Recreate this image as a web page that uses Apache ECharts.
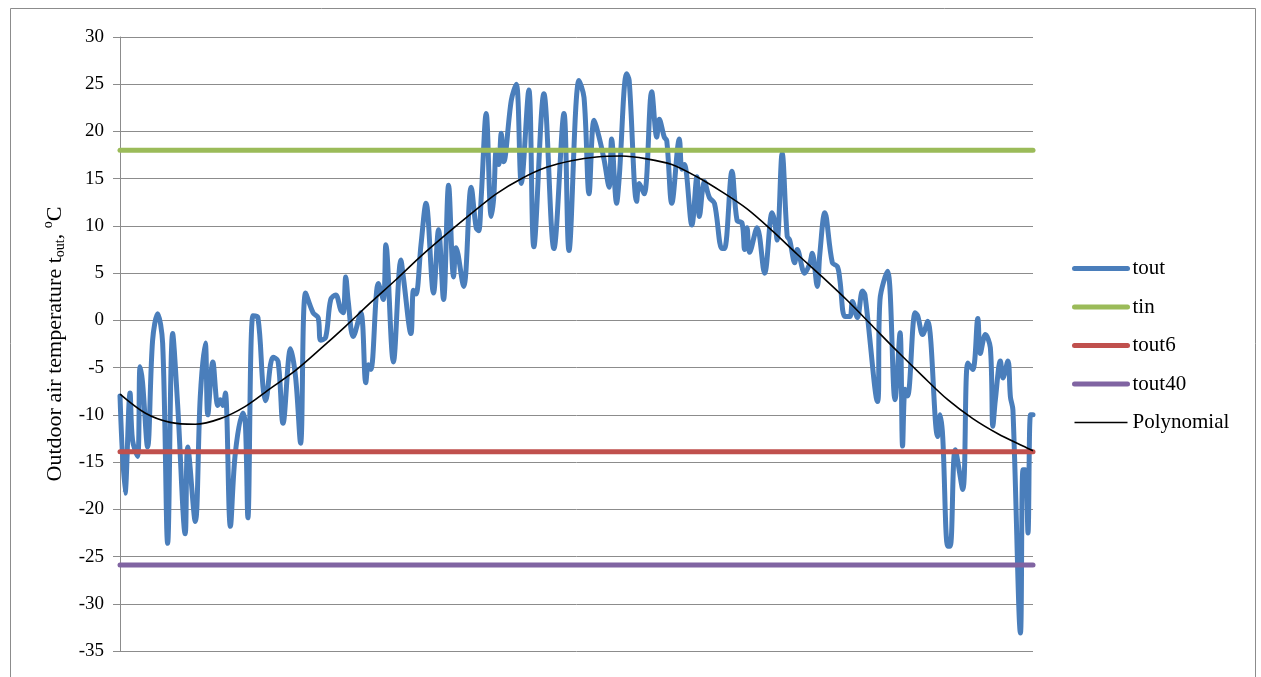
<!DOCTYPE html>
<html>
<head>
<meta charset="utf-8">
<script src="https://cdn.jsdelivr.net/npm/echarts@6/dist/echarts.min.js"></script>
<style>
  html, body { margin: 0; padding: 0; background: #ffffff; }
  #chart { width: 1261px; height: 677px; }
</style>
</head>
<body>
<div id="chart"></div>
<script>
// Day of year for each reading of the outdoor temperature series
const days = [1,3,5,6,8,9,10,12,14,16,18,20,22,24,27,28,31,33,35,36,38,40,41,42,43,45,47,50,51,52,54,56,58,59,62,64,66,69,71,73,75,78,80,81,83,85,87,89,90,91,92,94,97,99,100,101,104,106,107,110,113,114,117,118,119,121,123,126,128,130,132,134,135,138,141,143,144,145,147,149,150,151,152,153,154,157,159,161,164,166,170,174,178,180,184,186,188,190,192,194,196,197,199,200,203,204,207,208,210,213,215,216,218,219,221,224,225,226,229,231,232,234,236,238,241,242,245,247,249,250,251,252,255,258,261,262,263,265,267,268,270,271,274,276,277,279,280,282,285,287,288,290,292,293,295,297,298,303,304,307,310,312,313,314,315,318,319,321,323,327,328,329,331,332,334,337,339,341,343,344,346,348,349,350,352,353,355,356,357,360,361,362,363,364,365];

// Outdoor air temperature, °C
const tout = [-8.0,-18.3,-7.7,-12.7,-14.4,-4.9,-6.6,-13.4,-2.1,0.7,-2.4,-23.6,-1.4,-9,-22.6,-13.4,-21.3,-8.1,-2.4,-10,-4.4,-9,-8.4,-9,-7.7,-21.8,-14,-9.8,-11,-20.9,0.5,0.3,-7,-8.5,-3.9,-4.3,-10.9,-3,-6,-13,2.9,0.8,0.3,-2.1,-1.8,2.2,2.7,1.1,0.8,4.6,2,-1.7,0.8,-6.6,-4.7,-5.2,3.9,2.2,8,-4.4,6.4,4.5,-1.4,3.2,2.8,8,12.4,2.9,9.6,2.2,14.3,4.6,7.7,3.6,14.1,9.8,9.5,13,21.9,11,13,18,16.5,19.8,16.8,23.3,25,14.5,24.4,7.8,24,7.6,21.9,7.4,25.4,23.6,13.4,21.2,19.4,17,14.1,19.2,12.4,15,26.1,25.4,12.6,14.5,13.4,24.2,19.4,21.3,19.4,19,12.4,19.2,16,16.5,10.1,15.2,11,14.7,13,12.4,7.6,7.6,15.8,10.6,10.3,7.5,9.8,7.2,9.8,5,11.4,10.5,8.5,17.7,8.9,8.5,6.1,7.5,5,6,7.1,3.6,7,11.4,6.1,5.7,4.3,0.4,0.4,2,0.3,3.1,2.7,-8.6,2.2,5.2,-8.4,-1.3,-13.3,-7.3,-8,0.8,0.5,-1.5,-0.1,-12.3,-10,-12.3,-23.9,-23.9,-13.7,-17.9,-4.5,-5.2,0.2,-3.5,-1.5,-2.9,-11.2,-8.4,-4.3,-6.1,-4.3,-8.1,-9.5,-33.1,-15.8,-15.8,-22.5,-10,-10];

// Polynomial trend line read every ten days
const polyDays = [1,11,21,31,41,51,61,71,81,91,101,111,121,131,141,151,161,171,181,191,201,211,221,231,241,251,261,271,281,291,301,311,321,331,341,351,361,365];
const polyValues = [-7.8,-9.8,-10.8,-11.0,-10.4,-9.1,-7.2,-5.3,-3.0,-0.6,1.9,4.3,6.8,9.1,11.3,13.4,15.0,16.2,16.9,17.3,17.4,17.1,16.5,15.2,13.6,11.8,9.5,7.0,4.6,2.1,-0.6,-3.3,-5.9,-8.4,-10.4,-12.0,-13.3,-13.8];

// Constant reference temperatures, °C
const tinLevel = 18;
const tout6Level = -13.9;
const tout40Level = -25.9;

// Horizontal extent and value axis range
const firstDay = 1;
const lastDay = 365;
const yMin = -35;
const yMax = 30;
const yStep = 5;

const seriesNames = ['tout', 'tin', 'tout6', 'tout40', 'Polynomial'];

const serif = '"Liberation Serif", "Times New Roman", "DejaVu Serif", serif';
const gridGray = '#8c8c8c';

const pairs = (xs, ys) => xs.map((x, i) => [x, ys[i]]);
const flat = (v) => [[firstDay, v], [lastDay, v]];

const chart = echarts.init(document.getElementById('chart'), null, { renderer: 'canvas' });

chart.setOption({
  backgroundColor: '#ffffff',
  animation: false,
  graphic: [{
    type: 'rect',
    shape: { x: 10.5, y: 8.5, width: 1245, height: 720 },
    style: { fill: 'none', stroke: gridGray, lineWidth: 1 },
    silent: true,
    z: -1
  }],
  grid: { left: 120, top: 37, right: 228, bottom: 26, containLabel: false },
  legend: {
    orient: 'vertical',
    left: 1067,
    top: 253,
    itemWidth: 53,
    itemHeight: 12,
    itemGap: 17.5,
    data: seriesNames.map((name) => name === 'Polynomial'
      ? { name, lineStyle: { width: 1.6, cap: 'butt' } }
      : { name }),
    itemStyle: { opacity: 0 },
    lineStyle: { width: 5, cap: 'round' },
    textStyle: { fontFamily: serif, fontSize: 21, color: '#000000' }
  },
  xAxis: {
    type: 'value',
    min: firstDay,
    max: lastDay,
    show: false
  },
  yAxis: {
    type: 'value',
    min: yMin,
    max: yMax,
    interval: yStep,
    name: '{m|Outdoor air temperature t}{s|out}{m|, }{p|o}{m|C}',
    nameLocation: 'middle',
    nameRotate: 90,
    nameGap: 52,
    nameTextStyle: {
      fontFamily: serif,
      color: '#000000',
      rich: {
        m: { fontFamily: serif, fontSize: 22, lineHeight: 26, color: '#000000' },
        s: { fontFamily: serif, fontSize: 14, lineHeight: 14, verticalAlign: 'bottom', color: '#000000' },
        p: { fontFamily: serif, fontSize: 14, lineHeight: 14, verticalAlign: 'top', color: '#000000' }
      }
    },
    axisLine: { show: true, lineStyle: { color: gridGray, width: 1 } },
    axisTick: { show: true, length: 7, lineStyle: { color: gridGray } },
    axisLabel: { fontFamily: serif, fontSize: 19, color: '#000000', margin: 16 },
    splitLine: { show: true, lineStyle: { color: gridGray, width: 1 } }
  },
  series: [
    {
      name: 'tout', type: 'line', data: pairs(days, tout),
      symbol: 'none', smooth: 0.35,
      lineStyle: { color: '#4a7ebb', width: 5, cap: 'round', join: 'round' },
      itemStyle: { color: '#4a7ebb' }
    },
    {
      name: 'tin', type: 'line', data: flat(tinLevel), symbol: 'none',
      lineStyle: { color: '#9bbb59', width: 5, cap: 'round' },
      itemStyle: { color: '#9bbb59' }
    },
    {
      name: 'tout6', type: 'line', data: flat(tout6Level), symbol: 'none',
      lineStyle: { color: '#c0504d', width: 5, cap: 'round' },
      itemStyle: { color: '#c0504d' }
    },
    {
      name: 'tout40', type: 'line', data: flat(tout40Level), symbol: 'none',
      lineStyle: { color: '#8064a2', width: 5, cap: 'round' },
      itemStyle: { color: '#8064a2' }
    },
    {
      name: 'Polynomial', type: 'line', data: pairs(polyDays, polyValues),
      symbol: 'none', smooth: 0.3,
      lineStyle: { color: '#000000', width: 1.6 },
      itemStyle: { color: '#000000' }
    }
  ]
});
</script>
</body>
</html>
